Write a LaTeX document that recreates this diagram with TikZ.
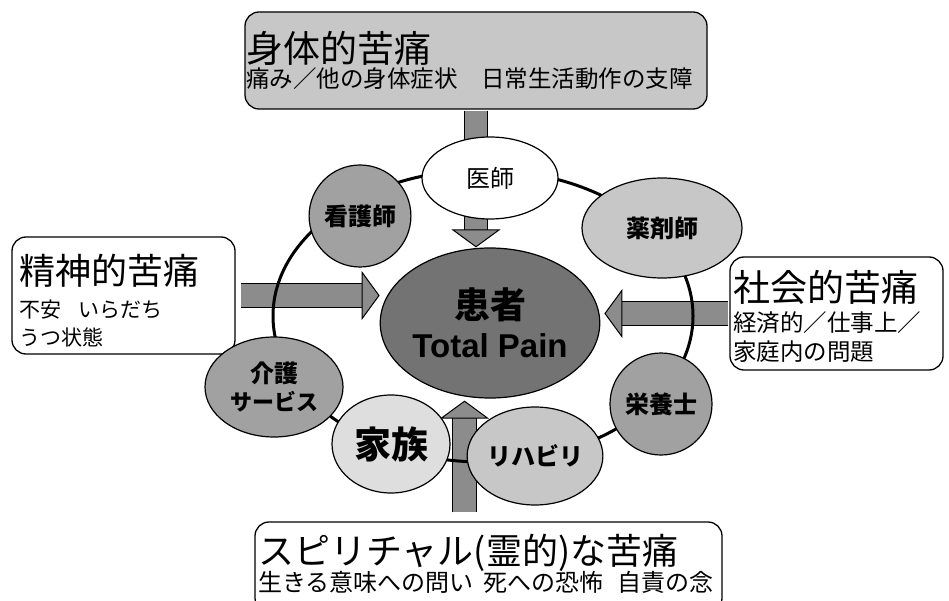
\documentclass[tikz,border=0pt]{standalone}
\usepackage{fontspec}
\setmainfont{Noto Sans CJK JP}
\newfontfamily\latinfont{Liberation Sans}
\usetikzlibrary{arrows.meta,positioning,shapes.geometric}

\definecolor{topFill}{gray}{0.78}
\definecolor{arrowFill}{gray}{0.55}
\definecolor{coreFill}{gray}{0.45}
\definecolor{midFill}{gray}{0.63}
\definecolor{lightFill}{gray}{0.78}
\definecolor{paleFill}{gray}{0.87}

\newcommand{\fs}[1]{\fontsize{#1}{#1}\selectfont}

\tikzset{
  painbox/.style={draw,rounded corners=14pt,line width=1.3pt,fill=white,inner sep=0pt},
  boxtext/.style={anchor=west,inner sep=0pt},
  staff/.style={ellipse,draw,line width=1.2pt,inner sep=0pt,font=\fs{24}\bfseries},
  arrowedge/.style={line width=24.8pt,draw=black,shorten >=16pt},
  bigarrow/.style={line width=22.5pt,draw=arrowFill,
    -{Triangle[width=49pt,length=18pt,line width=1pt,color=black,fill=arrowFill]}},
  ring/.style={line width=3pt}
}

\begin{document}
\begin{tikzpicture}[x=1pt,y=-1pt]
  \useasboundingbox (0,0) rectangle (949,601);
  \clip (0,0) rectangle (949,601);

  % the four kinds of pain
  \node (tbox) at (476,60.5) [painbox,fill=topFill,minimum width=462pt,minimum height=97pt] {};
  \node (lbox) at (123.5,295.5) [painbox,minimum width=223pt,minimum height=117pt] {};
  \node (rbox) at (836.5,313.5) [painbox,minimum width=213pt,minimum height=113pt] {};
  \node (bbox) at (488.5,567) [painbox,minimum width=467pt,minimum height=90pt] {};

  \node (ttitle) at (246,48) [boxtext] {\fs{37}身体的苦痛};
  \node (tsub) at (246,79) [boxtext] {\fs{23.5}痛み／他の身体症状\hspace{1em}日常生活動作の支障};
  \node (ltitle) at (19,271) [boxtext] {\fs{36}精神的苦痛};
  \node (lsub1) at (19,310) [boxtext] {\fs{21}不安\hspace{0.8em}いらだち};
  \node (lsub2) at (19,337) [boxtext] {\fs{21}うつ状態};
  \node (rtitle) at (733,287) [boxtext] {\fs{37}社会的苦痛};
  \node (rsub1) at (733,323) [boxtext] {\fs{23.5}経済的／仕事上／};
  \node (rsub2) at (733,352) [boxtext] {\fs{23.5}家庭内の問題};
  \node (btitle) at (258,553) [boxtext] {\fs{36}スピリチャル(霊的)な苦痛};
  \node (bsub) at (258,582) [boxtext] {\fs{24}生きる意味への問い\hspace{0.4em}死への恐怖\hspace{0.6em}自責の念};

  % patient
  \node (pt) at (490,323) [ellipse,draw,line width=1.2pt,fill=coreFill,inner sep=0pt,
    minimum width=184pt,minimum height=150pt,align=center]
    {\fs{36}\bfseries 患者\\[11pt]{\latinfont\fontsize{33}{33}\selectfont\bfseries Total Pain}};

  \coordinate (spirit) at ([xshift=-24pt]bbox.north);
  \coordinate (spiritTip) at (spirit |- pt.south);

  % arrows into the patient
  \draw[arrowedge,shorten <=1pt] (tbox.south) -- (tbox.south |- pt.north);
  \draw[bigarrow,shorten <=1pt] (tbox.south) -- (tbox.south |- pt.north);
  \draw[arrowedge,shorten <=5pt] (lbox.east) -- (lbox.east -| pt.west);
  \draw[bigarrow,shorten <=5pt] (lbox.east) -- (lbox.east -| pt.west);
  \draw[arrowedge,shorten <=1pt,shorten >=20pt] (rbox.west) -- (rbox.west -| pt.east);
  \draw[bigarrow,shorten <=1pt,shorten >=4pt] (rbox.west) -- (rbox.west -| pt.east);
  \draw[arrowedge,shorten <=9pt,shorten >=18pt] (spirit) -- (spiritTip);
  \draw[bigarrow,shorten <=9pt,shorten >=2pt] (spirit) -- (spiritTip);

  % care team
  \draw[ring] (483,316) ellipse [x radius=210pt,y radius=146pt];

  \node (doc) at (490,178) [staff,fill=white,font=\fs{24},minimum width=136pt,minimum height=82pt] {医師};
  \node (nurse) at (360,216) [staff,fill=midFill,minimum width=100pt,minimum height=102pt] {看護師};
  \node (pharm) at (662,228) [staff,fill=lightFill,minimum width=160pt,minimum height=100pt] {薬剤師};
  \node (diet) at (661,404) [staff,fill=midFill,minimum width=102pt,minimum height=102pt] {栄養士};
  \node (rehab) at (535,456) [staff,fill=lightFill,minimum width=116pt,minimum height=98pt] {リハビリ};
  \node (family) at (391,444) [staff,fill=paleFill,font=\fs{37}\bfseries,minimum width=118pt,minimum height=98pt] {家族};
  \node (care) at (274,387) [staff,fill=midFill,align=center,minimum width=138pt,minimum height=100pt]
    {\fs{24}\bfseries 介護\\[4pt]\fs{22}\bfseries サービス};

\end{tikzpicture}
\end{document}
